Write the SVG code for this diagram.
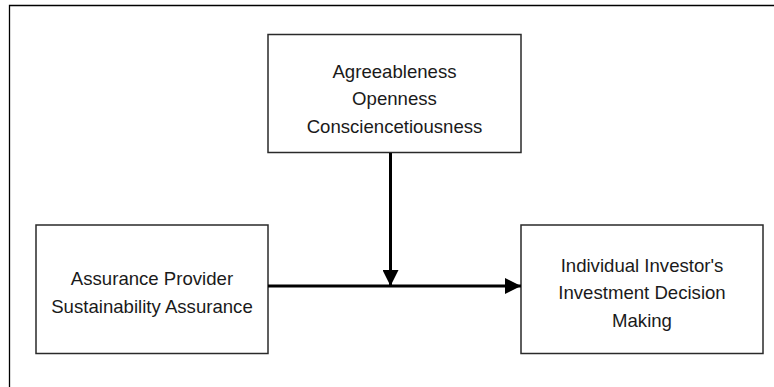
<svg xmlns="http://www.w3.org/2000/svg" width="774" height="387" viewBox="0 0 774 387">
<style>
.box{fill:#fff;stroke:#2a2a2a;stroke-width:1.5}
.lbl{font-family:"Liberation Sans",Arial,sans-serif;font-size:18.6px;fill:#1a1a1a;text-anchor:middle}
.conn{stroke:#000;stroke-width:3;fill:none}
</style>
<defs>
<marker id="ah" markerUnits="userSpaceOnUse" markerWidth="16" markerHeight="16" viewBox="0 0 16 16" refX="16" refY="8" orient="auto">
<path d="M0,0 L16,8 L0,16 z" fill="#000"/>
</marker>
</defs>
<rect width="774" height="387" fill="#fff"/>
<path d="M9.5,387 V5.5 H774" fill="none" stroke="#000" stroke-width="1.3"/>
<g id="moderator">
<rect class="box" x="268" y="34.5" width="253" height="118"/>
<text class="lbl" x="394.5" y="77.5">Agreeableness</text>
<text class="lbl" x="394.5" y="105">Openness</text>
<text class="lbl" x="394.5" y="132.5">Consciencetiousness</text>
</g>
<g id="independent">
<rect class="box" x="36" y="225" width="232" height="128.5"/>
<text class="lbl" x="152" y="285">Assurance Provider</text>
<text class="lbl" x="152" y="312.5">Sustainability Assurance</text>
</g>
<g id="dependent">
<rect class="box" x="521" y="225" width="242" height="128.5"/>
<text class="lbl" x="642" y="271.5">Individual Investor's</text>
<text class="lbl" x="642" y="299">Investment Decision</text>
<text class="lbl" x="642" y="326.5">Making</text>
</g>
<g id="connectors">
<line class="conn" x1="268" y1="286" x2="521" y2="286" marker-end="url(#ah)"/>
<line class="conn" x1="390.5" y1="153" x2="390.5" y2="286" marker-end="url(#ah)"/>
</g>
</svg>
